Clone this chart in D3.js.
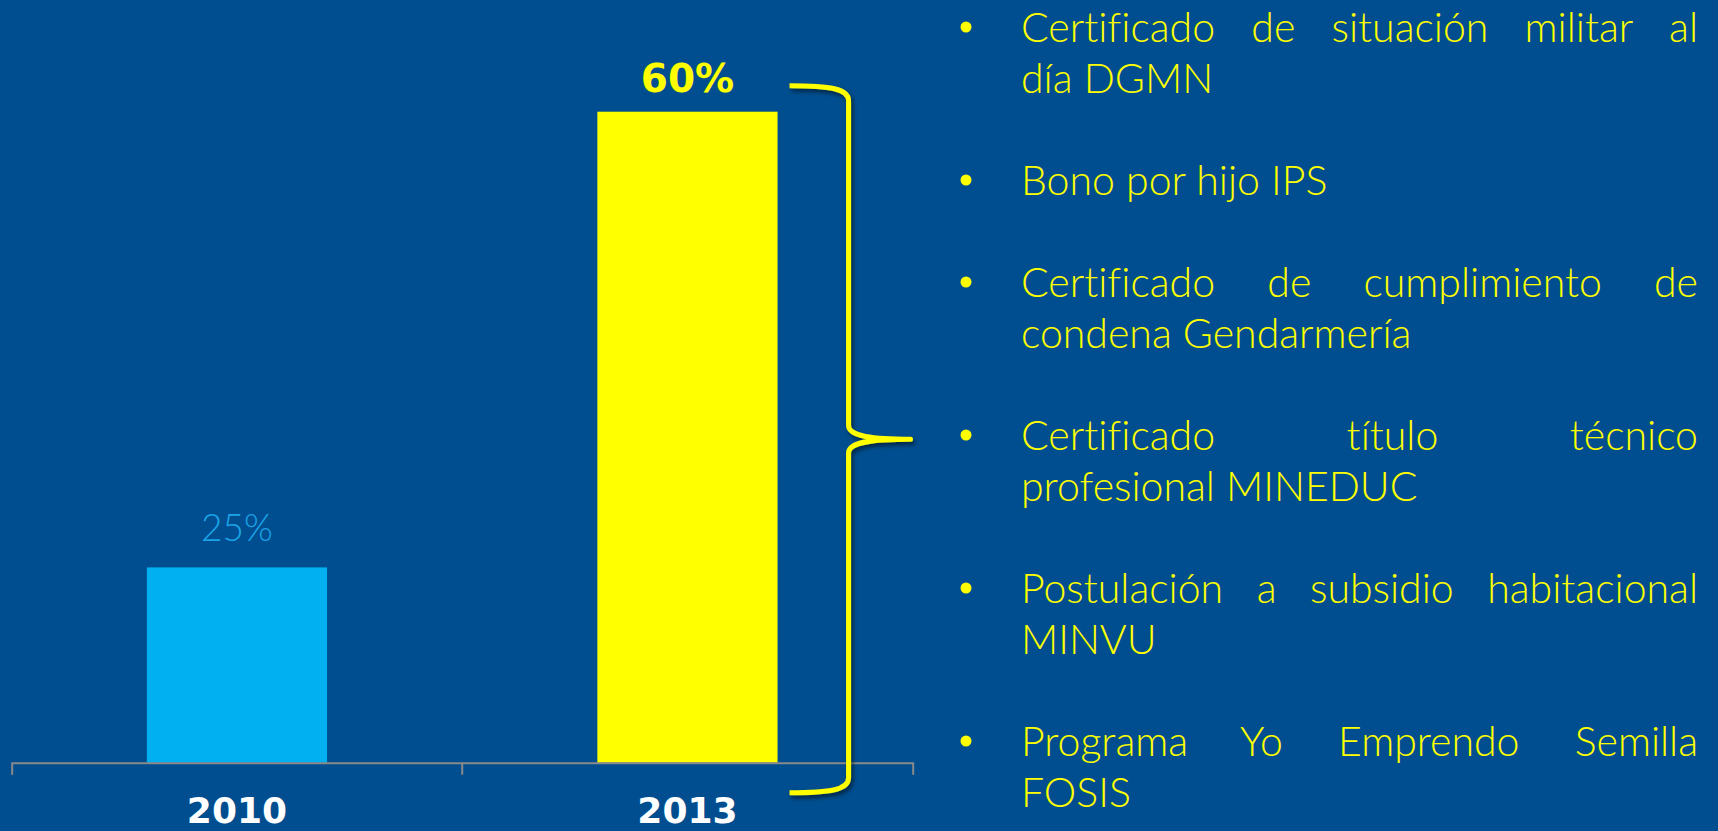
<!DOCTYPE html>
<html>
<head>
<meta charset="utf-8">
<script src="https://cdn.jsdelivr.net/npm/d3@7"></script>
<style>
  html, body { margin: 0; padding: 0; background: #004e8f; overflow: hidden; }
  text { font-variant-ligatures: none; }
</style>
</head>
<body>
<div id="chart"></div>
<script>
// data
var years = ["2010", "2013"];
var shares = [25, 60];
var shareLabels = ["25%", "60%"];
var items = [
    ["Certificado de situación militar al", "día DGMN"],
    ["Bono por hijo IPS"],
    ["Certificado de cumplimiento de", "condena Gendarmería"],
    ["Certificado título técnico", "profesional MINEDUC"],
    ["Postulación a subsidio habitacional", "MINVU"],
    ["Programa Yo Emprendo Semilla", "FOSIS"]
];

var width = 1718,
    height = 831;
var yellow = "#ffff00";

var svg = d3.select("#chart").append("svg")
    .attr("width", width)
    .attr("height", height)
    .style("display", "block");

svg.append("rect").attr("width", width).attr("height", height).attr("fill", "#004e8f");

// shadow for the brace
var defs = svg.append("defs");
defs.append("filter").attr("id", "shadow")
    .attr("x", "-50%").attr("y", "-10%").attr("width", "200%").attr("height", "120%")
    .append("feDropShadow")
    .attr("dx", 2).attr("dy", 3).attr("stdDeviation", 2)
    .attr("flood-color", "#000").attr("flood-opacity", 0.55);

// slots for each year, bars take 40% of a slot
var slot = d3.scaleBand().domain(years).range([11.7, 912.7]).padding(0);
var barW = slot.bandwidth() * 0.4;
var y = d3.scaleLinear().domain([10, 60]).range([762.7, 111.7]); // axis does not start at 0

var data = years.map(function (d, i) {
    return { year: d, value: shares[i], label: shareLabels[i] };
});

var barColor = { "2010": "#00b0f0", "2013": yellow };

svg.selectAll("rect.bar")
    .data(data)
    .enter().append("rect")
    .attr("class", "bar")
    .attr("x", function (d) { return slot(d.year) + (slot.bandwidth() - barW) / 2; })
    .attr("y", function (d) { return y(d.value); })
    .attr("width", barW)
    .attr("height", function (d) { return y.range()[0] - y(d.value); })
    .attr("fill", function (d) { return barColor[d.year]; });

// value labels
svg.selectAll("text.val")
    .data(data)
    .enter().append("text")
    .attr("class", "val")
    .attr("x", function (d) { return slot(d.year) + slot.bandwidth() / 2; })
    .attr("y", function (d, i) { return y(d.value) - (i === 0 ? 26 : 20); })
    .attr("text-anchor", "middle")
    .style("font-family", function (d, i) { return i === 0 ? "Lato, 'Open Sans', sans-serif" : "'DejaVu Sans', Verdana, sans-serif"; })
    .style("font-weight", function (d, i) { return i === 0 ? 300 : 700; })
    .style("font-size", function (d, i) { return i === 0 ? "37px" : "39px"; })
    .attr("fill", function (d, i) { return i === 0 ? "#1ba4e8" : yellow; })
    .text(function (d) { return d.label; });

// x axis: ticks sit on the slot edges
var xAxis = d3.axisBottom(slot).tickSizeInner(0).tickSizeOuter(12).tickPadding(0);
var gx = svg.append("g")
    .attr("transform", "translate(0," + y.range()[0] + ")")
    .call(xAxis);
gx.select(".domain").attr("stroke", "#8a8a8a").attr("stroke-width", 2);
gx.selectAll(".tick line").remove();
gx.selectAll(".tick text")
    .attr("y", 60).attr("dy", 0)
    .attr("fill", "#fff")
    .style("font-family", "'DejaVu Sans', Verdana, sans-serif")
    .style("font-weight", 700)
    .style("font-size", "36px");
gx.selectAll("line.mid")
    .data(years.slice(1))
    .enter().append("line")
    .attr("class", "mid")
    .attr("x1", function (d) { return slot(d); })
    .attr("x2", function (d) { return slot(d); })
    .attr("y1", 0).attr("y2", 12)
    .attr("stroke", "#8a8a8a").attr("stroke-width", 2);

// brace next to the 2013 bar
var xb0 = slot("2013") + (slot.bandwidth() + barW) / 2 + 12,
    xv = xb0 + 59,
    xt = xv + 62,
    yTop = y(60) - 26,
    yBot = y.range()[0] + 30,
    yMid = (yTop + yBot) / 2;

var p = d3.path();
p.moveTo(xb0, yTop);
p.bezierCurveTo(xv - 18, yTop, xv, yTop + 3, xv, yTop + 15);
p.lineTo(xv, yMid - 14);
p.bezierCurveTo(xv, yMid - 3, xv + 22, yMid, xt, yMid);
p.bezierCurveTo(xv + 22, yMid, xv, yMid + 3, xv, yMid + 14);
p.lineTo(xv, yBot - 15);
p.bezierCurveTo(xv, yBot - 3, xv - 18, yBot, xb0, yBot);

svg.append("path")
    .attr("d", p.toString())
    .attr("fill", "none")
    .attr("stroke", yellow)
    .attr("stroke-width", 5)
    .attr("stroke-linejoin", "round")
    .attr("filter", "url(#shadow)");

// bullet list, justified like the slide
var listX0 = 1021, listX1 = 1698, bulletX = 966;
var firstBase = 42, lineH = 51;
var fontList = "Lato, 'Open Sans', sans-serif";

var lineNo = 0;
var gl = svg.append("g").attr("fill", yellow)
    .style("font-family", fontList)
    .style("font-weight", 300)
    .style("font-size", "41px");

items.forEach(function (lines) {
    var base = firstBase + lineNo * lineH;
    gl.append("circle").attr("cx", bulletX).attr("cy", base - 15).attr("r", 5.5).attr("fill", yellow);
    lines.forEach(function (line, j) {
        var b = firstBase + lineNo * lineH;
        var t = gl.append("text").attr("y", b);
        if (j < lines.length - 1) {
            var words = line.split(" ");
            var spans = t.selectAll("tspan").data(words).enter().append("tspan").text(function (d) { return d; });
            var w = [];
            spans.each(function () { w.push(this.getComputedTextLength()); });
            var gap = (listX1 - listX0 - d3.sum(w)) / (words.length - 1);
            var cur = listX0;
            spans.attr("x", function (d, i) { var xx = cur; cur += w[i] + gap; return xx; });
        } else {
            t.attr("x", listX0).text(line);
        }
        lineNo++;
    });
    lineNo++; // blank line between items
});
</script>
</body>
</html>
